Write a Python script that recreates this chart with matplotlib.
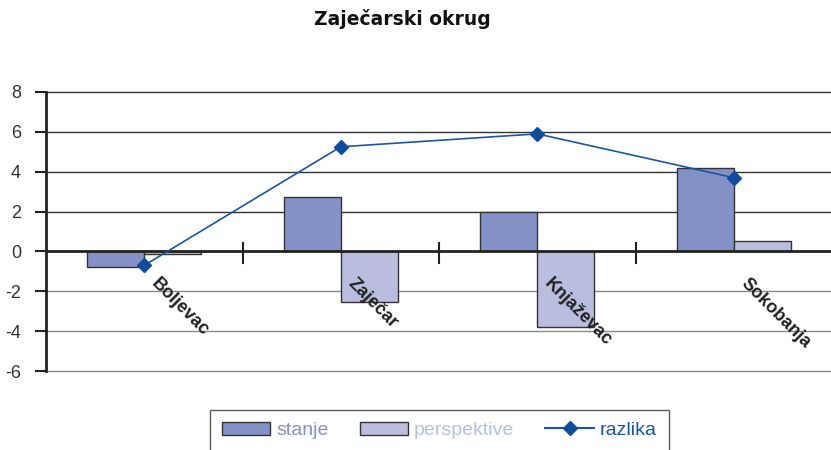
import matplotlib
matplotlib.use("Agg")
import matplotlib.pyplot as plt
import numpy as np
from matplotlib.lines import Line2D
from matplotlib.patches import Patch

categories = ["Boljevac", "Zaječar", "Knjaževac", "Sokobanja"]
stanje = [-0.8, 2.75, 2.0, 4.2]
perspektive = [-0.15, -2.55, -3.8, 0.5]
razlika = [-0.7, 5.25, 5.9, 3.7]
yticks = [8, 6, 4, 2, 0, -2, -4, -6]

c_stanje = "#8491C7"
c_persp = "#B9BEDF"
c_line = "#1A56A6"

plt.rcParams['font.family'] = ['Liberation Sans', 'DejaVu Sans']

fig = plt.figure(figsize=(8.31, 4.5), dpi=100)
ax = fig.add_axes([46/831, 1-371/450, (832-46)/831, (371-92)/450])

x = np.arange(len(categories))
w = 0.29
ax.set_xlim(-0.5, len(categories) - 0.5)
ax.set_ylim(-6, 8)

for yv in yticks:
    if yv == 0:
        continue
    col = "#333333" if yv > 0 else "#8a8a8a"
    ax.axhline(yv, color=col, lw=1.0, zorder=0, clip_on=False)

ax.bar(x - w/2, stanje, w, color=c_stanje, edgecolor="#333333", lw=1.0, zorder=2)
ax.bar(x + w/2, perspektive, w, color=c_persp, edgecolor="#333333", lw=1.0, zorder=2)
ax.axhline(0, color="#222222", lw=2.0, zorder=3)
ax.plot(x, razlika, color=c_line, lw=1.2, marker="D", markersize=7,
        markerfacecolor="#0F4C9E", markeredgecolor="#0F4C9E", zorder=4)

# category separator ticks on zero line
for b in np.arange(0.5, len(categories) - 0.5, 1):
    ax.plot([b, b], [-0.6, 0.4], color="#222222", lw=1.5, zorder=3)

for i, lab in enumerate(categories):
    ax.text(i + 0.05, -1.5, lab, rotation=-45, rotation_mode="anchor",
            ha="left", va="center", fontsize=13, fontweight="bold",
            color="#222222")

for s in ["top", "right", "bottom"]:
    ax.spines[s].set_visible(False)
ax.spines["left"].set_linewidth(2.0)
ax.spines["left"].set_color("#222222")
ax.set_xticks([])
ax.set_yticks(yticks)
ax.set_yticklabels([str(v) for v in yticks], fontsize=13, color="#333333")
ax.tick_params(axis="y", length=8, width=1.5, color="#222222", pad=10)

fig.text(402/831, 1-19/450, "Zaječarski okrug", ha="center", va="center",
         fontsize=13.5, fontweight="bold", color="#111111", family=["DejaVu Sans"])

handles = [Patch(facecolor=c_stanje, edgecolor="#333333", lw=1.0),
           Patch(facecolor=c_persp, edgecolor="#333333", lw=1.0),
           Line2D([], [], color=c_line, lw=1.5, marker="D", markersize=7,
                  markerfacecolor="#0F4C9E", markeredgecolor="#0F4C9E")]
leg = fig.legend(handles, ["stanje", "perspektive", "razlika"], ncol=3,
                 loc="upper left", bbox_to_anchor=(210/831, 1-410/450),
                 bbox_transform=fig.transFigure, fontsize=14, frameon=True,
                 fancybox=False, handlelength=2.5, handleheight=0.7,
                 columnspacing=1.6, handletextpad=0.3, borderpad=0.6,
                 borderaxespad=0)
leg.get_frame().set_edgecolor("#333333")
leg.get_frame().set_linewidth(1.0)
for t, c in zip(leg.get_texts(), [c_stanje, c_persp, c_line]):
    t.set_color(c)

fig.savefig("out.png", dpi=100)
